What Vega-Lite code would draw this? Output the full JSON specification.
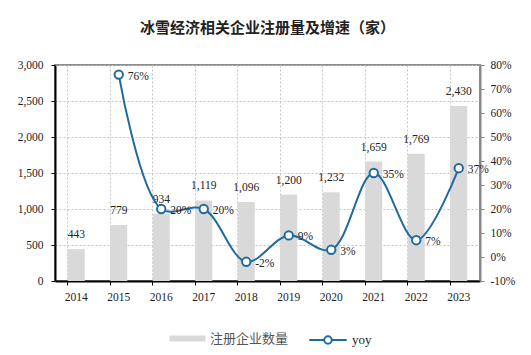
{
  "$schema": "https://vega.github.io/schema/vega-lite/v6.json",
  "width": 425,
  "height": 216,
  "autosize": {"type": "none"},
  "padding": {"left": 55, "top": 65, "right": 51, "bottom": 74},
  "background": "white",
  "title": {
    "text": "冰雪经济相关企业注册量及增速（家）",
    "font": "Noto Sans CJK SC",
    "fontSize": 15,
    "fontWeight": "bold",
    "color": "#222",
    "offset": 23,
    "anchor": "middle"
  },
  "config": {
    "view": {"stroke": "#8c8c8c", "strokeWidth": 2, "fill": "white"},
    "font": "Liberation Serif",
    "axis": {"labelFont": "Liberation Serif", "labelFontSize": 11, "labelColor": "#222", "labelOverlap": false, "labelBound": false}
  },
  "data": {
    "values": [
      {"year": "2014", "count": 443, "yoy": null},
      {"year": "2015", "count": 779, "yoy": 0.76},
      {"year": "2016", "count": 934, "yoy": 0.20},
      {"year": "2017", "count": 1119, "yoy": 0.20},
      {"year": "2018", "count": 1096, "yoy": -0.02},
      {"year": "2019", "count": 1200, "yoy": 0.09},
      {"year": "2020", "count": 1232, "yoy": 0.03},
      {"year": "2021", "count": 1659, "yoy": 0.35},
      {"year": "2022", "count": 1769, "yoy": 0.07},
      {"year": "2023", "count": 2430, "yoy": 0.37}
    ]
  },
  "encoding": {
    "x": {
      "field": "year",
      "type": "ordinal",
      "scale": {"paddingInner": 0.6, "paddingOuter": 0.3},
      "axis": {
        "title": null,
        "labelAngle": 0,
        "labelFont": "Liberation Serif",
        "labelFontSize": 11.5,
        "bandPosition": 0,
        "grid": true,
        "gridDash": [2, 2],
        "gridColor": "#c4c4c4",
        "domainColor": "#000",
        "domainWidth": 2,
        "tickColor": "#000",
        "tickSize": 4,
        "labelPadding": 6
      }
    }
  },
  "layer": [
    {
      "encoding": {
        "y": {
          "field": "count",
          "type": "quantitative",
          "scale": {"domain": [0, 3000]},
          "axis": {
            "title": null,
            "format": ",.0f",
            "labelFont": "Liberation Serif",
            "labelFontSize": 11.5,
            "labelPadding": 8,
            "values": [0, 500, 1000, 1500, 2000, 2500, 3000],
            "grid": true,
            "gridDash": [2, 2],
            "gridColor": "#c4c4c4",
            "domainColor": "#000",
            "domainWidth": 2,
            "tickColor": "#000",
            "tickSize": 4
          }
        }
      },
      "layer": [
        {
          "mark": {"type": "bar"},
          "encoding": {
            "color": {
              "datum": "注册企业数量",
              "scale": {"range": ["#d9d9d9"]},
              "legend": {
                "title": null,
                "orient": "none",
                "legendX": 114,
                "legendY": 255,
                "symbolType": "M-1,-0.17H1V0.17H-1Z",
                "symbolSize": 1300,
                "symbolStrokeWidth": 0,
                "labelFont": "Noto Sans CJK SC",
                "labelFontSize": 13,
                "labelColor": "#555"
              }
            }
          }
        },
        {
          "mark": {"type": "text", "dy": -9, "baseline": "bottom", "fontSize": 11.5, "font": "Liberation Serif", "color": "#222"},
          "encoding": {
            "text": {"field": "count", "type": "quantitative", "format": ",.0f"}
          }
        }
      ]
    },
    {
      "transform": [
        {"filter": "datum.yoy !== null"},
        {"calculate": "replace(format(datum.yoy, '.0%'), '−', '-')", "as": "yoyLabel"}
      ],
      "encoding": {
        "y": {
          "field": "yoy",
          "type": "quantitative",
          "scale": {"domain": [-0.1, 0.8]},
          "axis": {
            "title": null,
            "orient": "right",
            "format": ".0%",
            "labelFont": "Liberation Serif",
            "labelFontSize": 11.5,
            "labelPadding": 6,
            "labelExpr": "replace(datum.label, '−', '-')",
            "values": [-0.1, 0, 0.1, 0.2, 0.3, 0.4, 0.5, 0.6, 0.7, 0.8],
            "grid": false,
            "domainColor": "#888",
            "domainWidth": 2,
            "tickColor": "#888",
            "tickSize": 4
          }
        }
      },
      "layer": [
        {
          "mark": {"type": "line", "interpolate": "catmull-rom", "strokeWidth": 2},
          "encoding": {
            "stroke": {
              "datum": "yoy",
              "scale": {"range": ["#1f6b9c"]},
              "legend": {
                "title": null,
                "orient": "none",
                "legendX": 253,
                "legendY": 255,
                "symbolType": "M-1,0H-0.2M0.2,0H1M-0.2,0A0.2,0.2 0 1,0 0.2,0A0.2,0.2 0 1,0 -0.2,0",
                "symbolSize": 1400,
                "symbolStrokeWidth": 2,
                "symbolFillColor": "white",
                "labelFont": "Liberation Serif",
                "labelFontSize": 13,
                "labelColor": "#222"
              }
            }
          }
        },
        {
          "mark": {"type": "point", "shape": "circle", "filled": true, "fill": "white", "stroke": "#1f6b9c", "strokeWidth": 2, "size": 70, "opacity": 1}
        },
        {
          "mark": {"type": "text", "dx": 9, "dy": 2, "align": "left", "fontSize": 11.5, "font": "Liberation Serif", "color": "#222"},
          "encoding": {
            "text": {"field": "yoyLabel", "type": "nominal"}
          }
        }
      ]
    }
  ],
  "resolve": {"scale": {"y": "independent"}}
}
